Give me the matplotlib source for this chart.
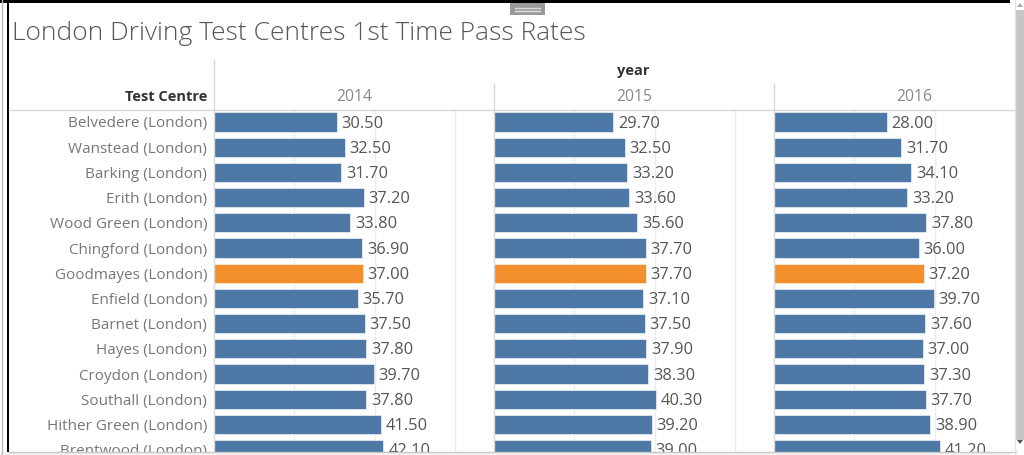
import matplotlib
matplotlib.use("Agg")
import matplotlib.pyplot as plt
from matplotlib.patches import Rectangle
from matplotlib.lines import Line2D

centres = ["Belvedere (London)", "Wanstead (London)", "Barking (London)", "Erith (London)",
           "Wood Green (London)", "Chingford (London)", "Goodmayes (London)", "Enfield (London)",
           "Barnet (London)", "Hayes (London)", "Croydon (London)", "Southall (London)",
           "Hither Green (London)", "Brentwood (London)"]
years = ["2014", "2015", "2016"]
rate_2014 = [30.5, 32.5, 31.7, 37.2, 33.8, 36.9, 37.0, 35.7, 37.5, 37.8, 39.7, 37.8, 41.5, 42.1]
rate_2015 = [29.7, 32.5, 33.2, 33.6, 35.6, 37.7, 37.7, 37.1, 37.5, 37.9, 38.3, 40.3, 39.2, 39.0]
rate_2016 = [28.0, 31.7, 34.1, 33.2, 37.8, 36.0, 37.2, 39.7, 37.6, 37.0, 37.3, 37.7, 38.9, 41.2]
highlight = "Goodmayes (London)"
series = [rate_2014, rate_2015, rate_2016]

FONT = "Open Sans"
W, H = 1024, 455
fig = plt.figure(figsize=(W / 100, H / 100), dpi=100)
fig.patch.set_facecolor("white")

def fx(x):
    return x / W

def fy(y):
    return 1 - y / H

BLUE = "#4e79a7"
ORANGE = "#f28e2b"
GRID = "#ececec"
SEP = "#d9d9d9"

top_px, bot_px = 109, 452
pitch = 25.2
y_top = -13 / pitch
y_bot = y_top + (bot_px - top_px) / pitch
panel_w = 280
x_max = panel_w / 4.02

for i, (yr, vals) in enumerate(zip(years, series)):
    left = 214 + panel_w * i
    ax = fig.add_axes([fx(left), fy(bot_px), panel_w / W, (bot_px - top_px) / H])
    ax.set_xlim(0, x_max)
    ax.set_ylim(y_bot, y_top)
    for g in (20, 40, 60):
        ax.axvline(g, color=GRID, lw=1, zorder=0)
    colors = [ORANGE if c == highlight else BLUE for c in centres]
    ax.barh(range(len(centres)), vals, height=0.76, color=colors, zorder=2,
            edgecolor="white", linewidth=0.4)
    for j, v in enumerate(vals):
        ax.annotate(f"{v:.2f}", (v, j), xytext=(5, -1.5), textcoords="offset pixels",
                    va="center", ha="left", fontsize=11.8, color="#555555",
                    family=FONT, zorder=3)
    for s in ax.spines.values():
        s.set_visible(False)
    ax.set_xticks([])
    if i == 0:
        ax.set_yticks(range(len(centres)))
        ax.set_yticklabels(centres, fontsize=11, color="#777777", family=FONT)
        ax.tick_params(axis="y", length=0, pad=5)
    else:
        ax.set_yticks([])
    fig.text(fx(left + panel_w / 2), fy(97), yr, ha="center", va="center",
             fontsize=11.3, color="#888888", family=FONT)

# overlay for chrome
ov = fig.add_axes([0, 0, 1, 1], zorder=10)
ov.set_xlim(0, W)
ov.set_ylim(H, 0)
ov.axis("off")
ov.patch.set_alpha(0)

# separators
ov.add_line(Line2D([214, 214], [60, bot_px], color=SEP, lw=1))
for xs in (494, 774):
    ov.add_line(Line2D([xs, xs], [84, bot_px], color=SEP, lw=1))
ov.add_line(Line2D([9, 1015], [109.5, 109.5], color=SEP, lw=1))

# headers
ov.text(12, 33, "London Driving Test Centres 1st Time Pass Rates", ha="left", va="center",
        fontsize=19, color="#555555", family=FONT, fontweight="light")
ov.text(633, 71, "year", ha="center", va="center", fontsize=10.5, color="#333333",
        family=FONT, fontweight="bold")
ov.text(207, 97, "Test Centre", ha="right", va="center", fontsize=10.5, color="#333333",
        family=FONT, fontweight="bold")

# frame bits
ov.add_patch(Rectangle((0, 0), 1016, 2.5, color="black", lw=0))
ov.add_patch(Rectangle((6.5, 0), 2, H, color="black", lw=0))
ov.add_line(Line2D([1.5, 1.5], [0, H], color="#bbbbbb", lw=1))
ov.add_patch(Rectangle((0, 452), 1016, 3, color="#f3f3f3", lw=0))
ov.add_line(Line2D([9, 1016], [452, 452], color="#c8c8c8", lw=1))
# right scrollbar
ov.add_patch(Rectangle((1010, 0), 14, H, color="white", lw=0))
ov.add_patch(Rectangle((1015, 10), 9, 430, color="#c6c6c6", lw=0))
ov.add_line(Line2D([1014.5, 1014.5], [0, H], color="#e4e4e4", lw=1))
ov.add_patch(plt.Polygon([[1017, 7], [1020, 3], [1023, 7]], color="#aaaaaa", lw=0))
ov.add_patch(plt.Polygon([[1017, 440], [1020, 444], [1023, 440]], color="#555555", lw=0))
# grip icon
ov.add_patch(Rectangle((510, 3), 35, 12, color="#9a9a9a", lw=0))
ov.add_line(Line2D([515, 540], [7.5, 7.5], color="#dddddd", lw=1))
ov.add_line(Line2D([515, 540], [11, 11], color="#dddddd", lw=1))

fig.savefig("out.png", dpi=100)
